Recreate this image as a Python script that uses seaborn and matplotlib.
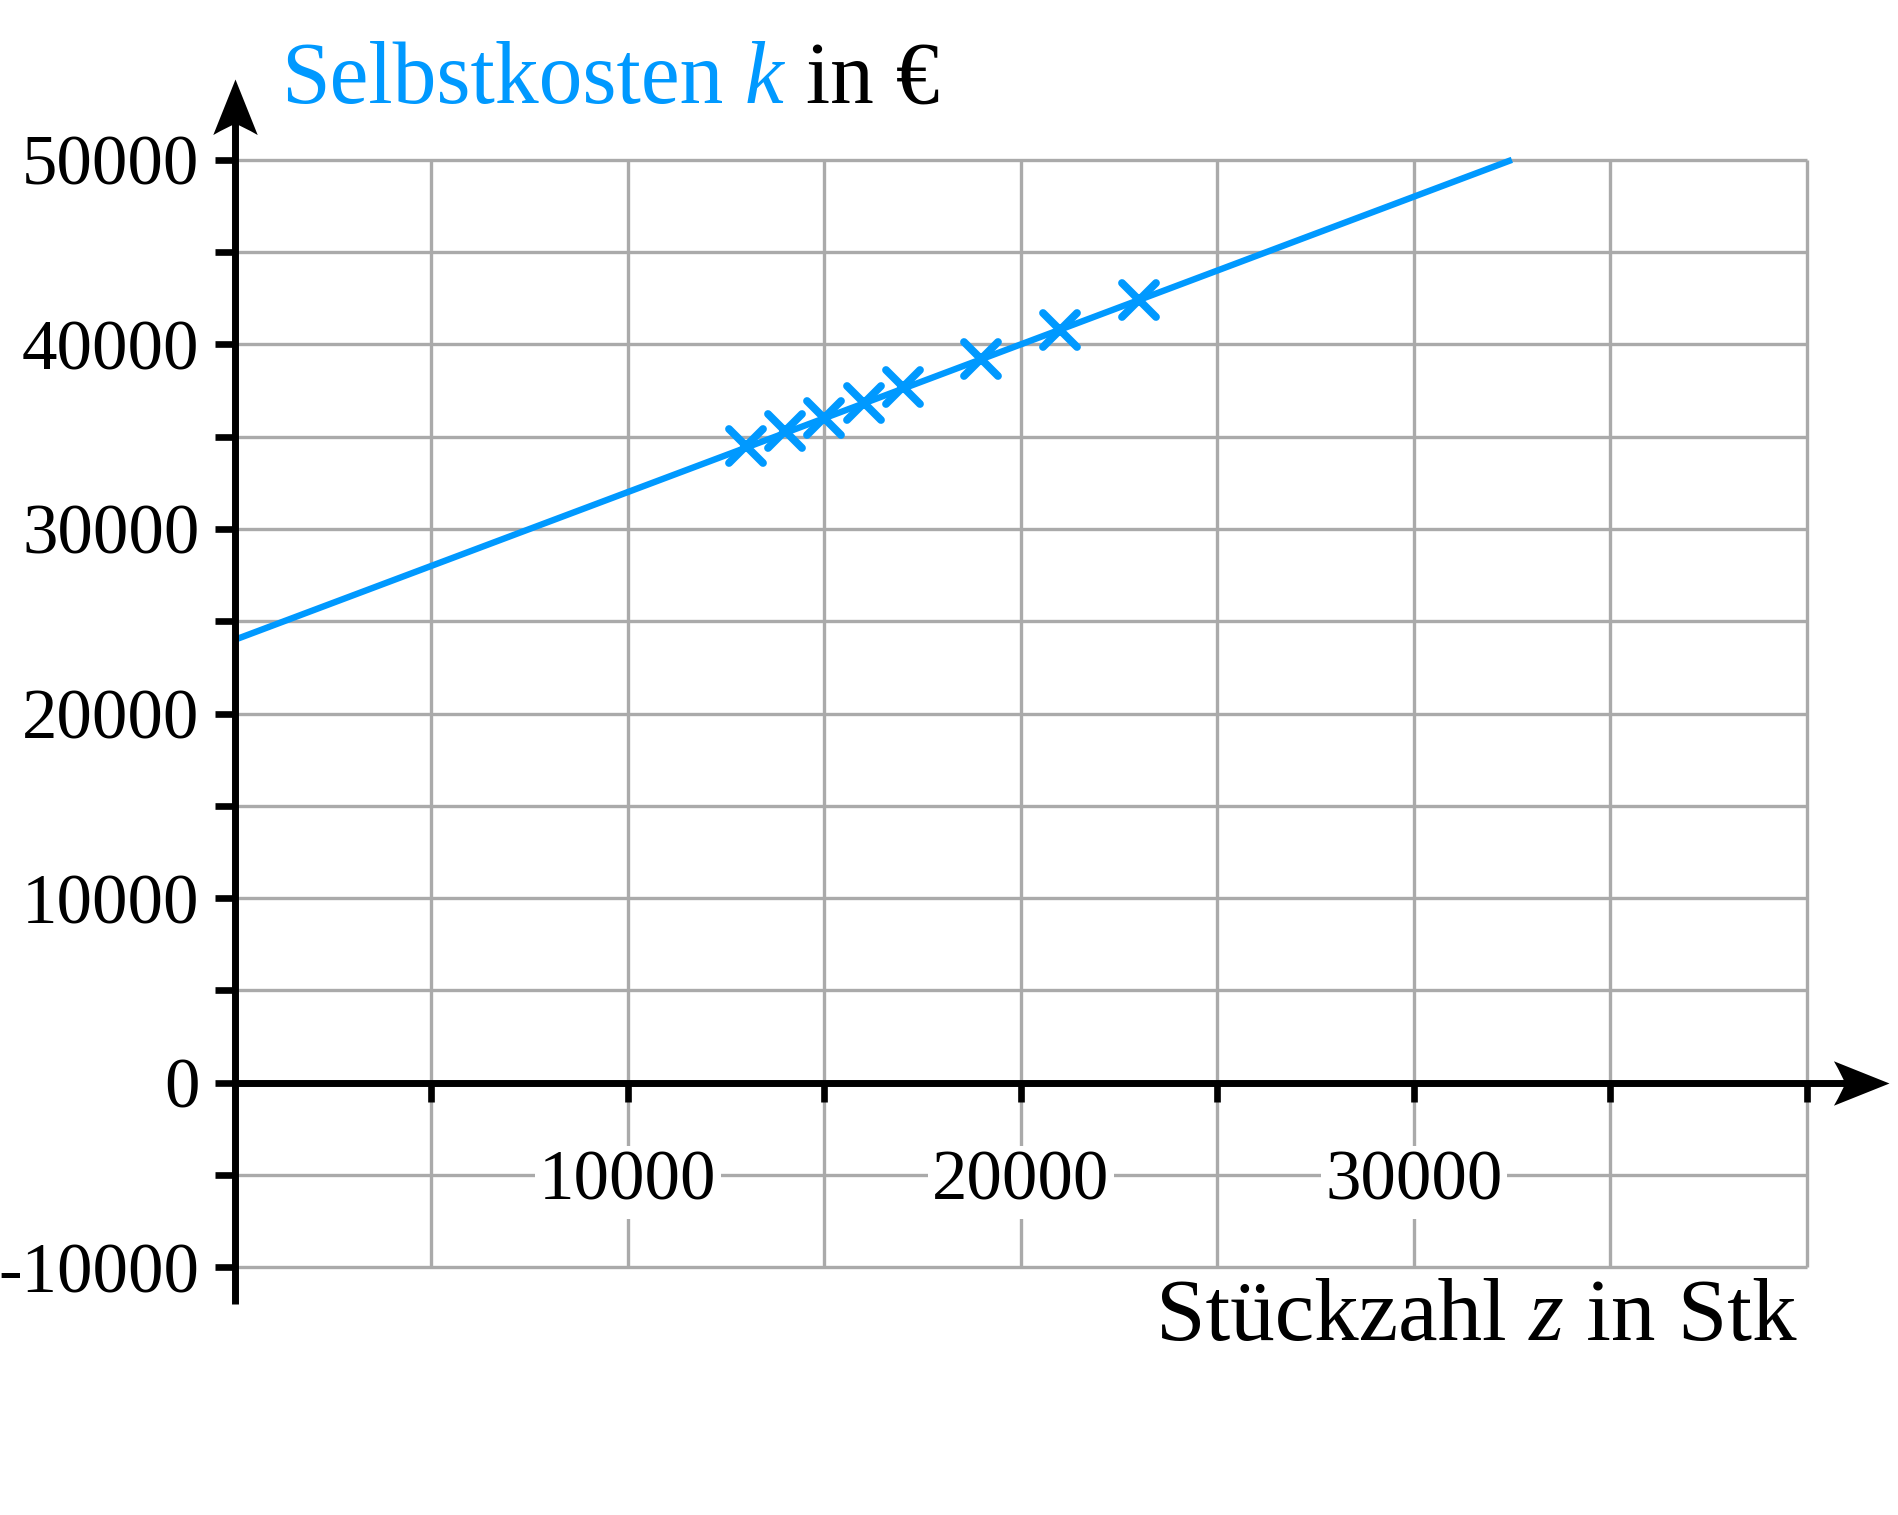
import matplotlib
matplotlib.use("Agg")
import matplotlib.pyplot as plt
import seaborn as sns
import numpy as np
from matplotlib.path import Path
from matplotlib.markers import MarkerStyle

# ---- data ----
z_points = [13000, 14000, 15000, 16000, 17000, 19000, 21000, 23000]
k_points = [34500, 35300, 36000, 36800, 37700, 39200, 40800, 42400]
line_z = [0, 32500]
line_k = [24000, 50000]
y_tick_values = [-10000, 0, 10000, 20000, 30000, 40000, 50000]
y_tick_labels = ["-10000", "0", "10000", "20000", "30000", "40000", "50000"]
y_minor_values = [-5000, 5000, 15000, 25000, 35000, 45000]
x_label_values = [10000, 20000, 30000]
x_label_texts = ["10000", "20000", "30000"]
grid_x = [5000, 10000, 15000, 20000, 25000, 30000, 35000, 40000]
grid_y = [-10000, -5000, 0, 5000, 10000, 15000, 20000, 25000,
          30000, 35000, 40000, 45000, 50000]
x_axis_end = 42100
y_axis_end = 54400
y_axis_start = -12000

BLUE = "#0099ff"
GRID = "#aaaaaa"

sns.set_theme(style="white")
plt.rcParams["font.family"] = ["Liberation Serif", "DejaVu Serif"]

fig = plt.figure(figsize=(18.99, 15.15), dpi=100)
ax = fig.add_axes([0.1237, 0.1392, 0.8721, 0.8101])
ax.set_xlim(0, 42150)
ax.set_ylim(-12000, 54500)
ax.grid(False)
ax.set_axisbelow(False)
for s in ax.spines.values():
    s.set_visible(False)
ax.spines["bottom"].set_position(("data", 0))

# grid
ax.hlines(grid_y, 0, grid_x[-1], colors=GRID, lw=2.4, zorder=1)
ax.vlines(grid_x, grid_y[0], grid_y[-1], colors=GRID, lw=2.4, zorder=1)

# x tick labels on the -5000 gridline
for v, t in zip(x_label_values, x_label_texts):
    ax.text(v, -5000, t, ha="center", va="center_baseline", fontsize=51,
            color="black", zorder=2,
            bbox=dict(facecolor="white", edgecolor="none", pad=3))

# axes lines with stealth arrows
arrow_r = Path([(0, 0), (-1, 0.4), (-0.84, 0.12), (-0.8, 0), (-0.84, -0.12), (-1, -0.4), (0, 0)],
               [Path.MOVETO, Path.LINETO, Path.CURVE3, Path.CURVE3, Path.CURVE3, Path.CURVE3, Path.CLOSEPOLY])
arrow_u = Path([(-y, x) for x, y in arrow_r.vertices], arrow_r.codes)
ax.plot([0, x_axis_end - 1000], [0, 0], color="black", lw=5, clip_on=False,
        solid_capstyle="butt", zorder=5)
ax.plot([0, 0], [y_axis_start, y_axis_end - 2000], color="black", lw=5,
        clip_on=False, solid_capstyle="butt", zorder=5)
ax.plot([x_axis_end], [0], marker=arrow_r, ms=80, color="black", mew=0,
        clip_on=False, zorder=6)
ax.plot([0], [y_axis_end], marker=arrow_u, ms=80, color="black", mew=0,
        clip_on=False, zorder=6)

# ticks
ax.set_yticks(y_tick_values, y_tick_labels)
ax.set_yticks(y_minor_values, minor=True)
ax.tick_params(axis="y", which="both", left=True, direction="out", length=14.5,
               width=4.8, color="black", pad=11, labelsize=51, labelcolor="black")
ax.set_xticks(grid_x, [""] * len(grid_x))
ax.tick_params(axis="x", which="both", bottom=True, direction="out", length=14,
               width=4.8, color="black")

# data
sns.lineplot(x=line_z, y=line_k, color=BLUE, lw=4.6, ax=ax, zorder=3,
             solid_capstyle="butt")
xmark = MarkerStyle("x", capstyle="round")
sns.lineplot(x=z_points, y=k_points, color=BLUE, linestyle="none",
             marker=xmark, markersize=24, markeredgewidth=5.6,
             markeredgecolor=BLUE, ax=ax, zorder=4, sort=False)

# axis titles
t1 = fig.text(0.148, 0.9322, "Selbstkosten", color=BLUE, fontsize=63,
              ha="left", va="baseline")
t2 = ax.annotate(" k", xy=(1, 0), xycoords=t1, color=BLUE, fontsize=63,
                 fontstyle="italic", ha="left", va="bottom", annotation_clip=False)
t3 = ax.annotate(" in €", xy=(1, 0), xycoords=t2, color="black", fontsize=63,
                 ha="left", va="bottom", annotation_clip=False)

u1 = fig.text(0.609, 0.1155, "Stückzahl", color="black", fontsize=64,
              ha="left", va="baseline")
u2 = ax.annotate(" z", xy=(1, 0), xycoords=u1, color="black", fontsize=64,
                 fontstyle="italic", ha="left", va="bottom", annotation_clip=False)
u3 = ax.annotate(" in Stk", xy=(1, 0), xycoords=u2, color="black", fontsize=64,
                 ha="left", va="bottom", annotation_clip=False)

fig.savefig("out.png", dpi=100)
